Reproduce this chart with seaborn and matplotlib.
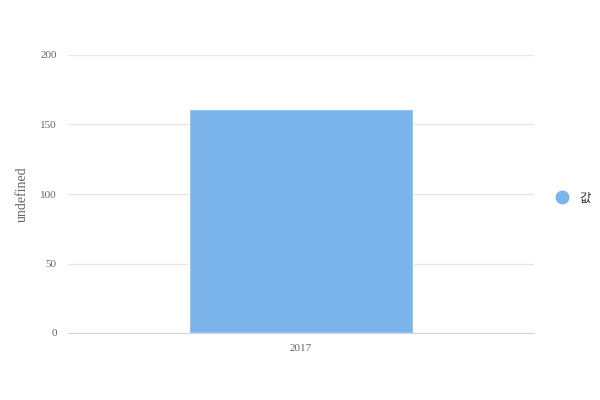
import pandas as pd
import seaborn as sns
import matplotlib.pyplot as plt
from matplotlib.lines import Line2D

# 데이터
years = ["2017"]
values = [161]
series_name = "값"

df = pd.DataFrame({"year": years, "value": values})

sns.set_style("white")
plt.rcParams["font.family"] = ["Liberation Serif", "Noto Sans CJK KR"]

fig = plt.figure(figsize=(6, 4), dpi=100)
ax = fig.add_axes([0.113, 0.1675, 0.777, 0.695])

sns.barplot(data=df, x="year", y="value", color="#7cb5ec", saturation=1,
            width=0.48, ax=ax, zorder=3)

ax.set_xlim(-0.5, 0.5)
ax.set_ylim(0, 200)
ax.set_yticks([0, 50, 100, 150, 200])
ax.yaxis.grid(True, color="#e6e6e6", linewidth=1, zorder=0)
ax.set_axisbelow(True)

for s in ["top", "right", "left"]:
    ax.spines[s].set_visible(False)
ax.spines["bottom"].set_color("#ccd6eb")
ax.tick_params(axis="y", length=0, labelsize=8, colors="#666666", pad=8)
ax.tick_params(axis="x", length=0, labelsize=8, colors="#666666", pad=8)

ax.set_xlabel("")
ax.set_ylabel("undefined", fontsize=10, color="#666666", labelpad=8)

handle = Line2D([], [], marker="o", linestyle="none", markersize=9,
                markerfacecolor="#7cb5ec", markeredgecolor="#7cb5ec")
leg = fig.legend([handle], [series_name], loc="center left",
                 bbox_to_anchor=(0.897, 0.505), frameon=False,
                 handletextpad=0.4, prop={"family": "Noto Sans CJK KR",
                                          "size": 9})
for t in leg.get_texts():
    t.set_color("#333333")

fig.savefig("out.png", dpi=100)
